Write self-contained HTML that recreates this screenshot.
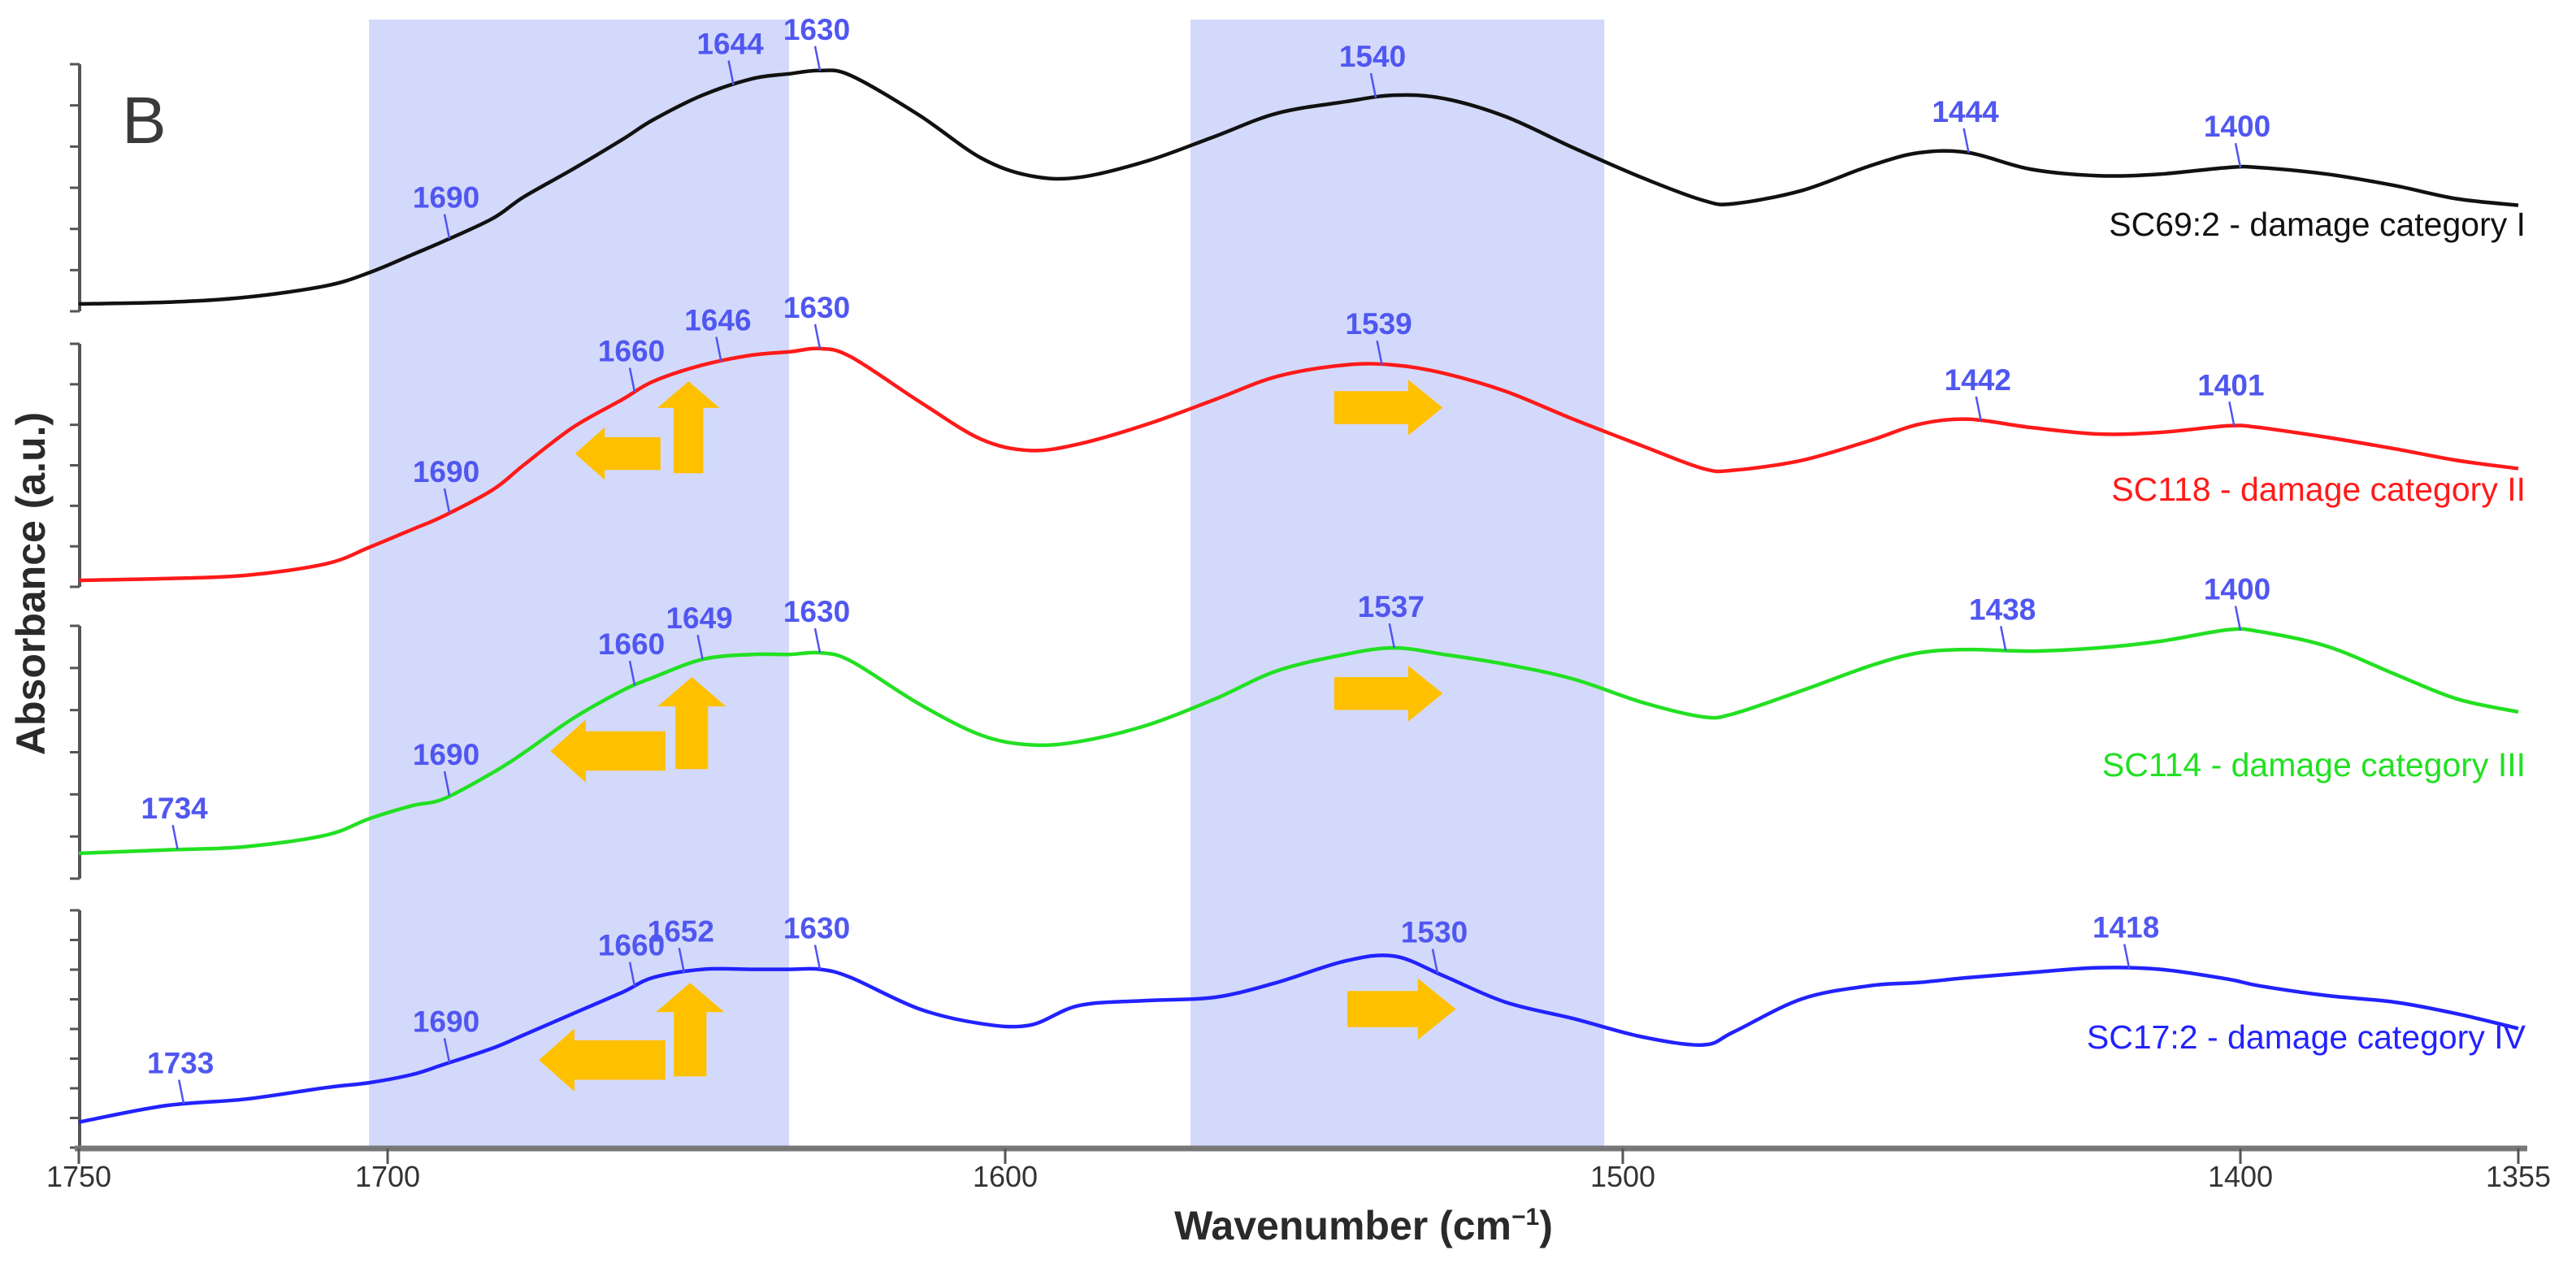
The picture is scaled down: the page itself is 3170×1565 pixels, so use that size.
<!DOCTYPE html>
<html><head><meta charset="utf-8"><style>
html,body{margin:0;padding:0;background:#fff}
svg{display:block}
text{font-family:"Liberation Sans",sans-serif}
</style></head><body>
<svg id="chart" width="3170" height="1565" viewBox="0 0 3170 1565" xmlns="http://www.w3.org/2000/svg">
<g id="shades"></g>
<g id="axes"></g>
<g id="arrows"></g>
<g id="series"></g>
<g id="annots"></g>
<text x="150" y="176" font-size="82" fill="#3a3a3a">B</text>
<text transform="translate(55,718) rotate(-90)" text-anchor="middle" font-size="50" font-weight="bold" fill="#2a2a2a">Absorbance (a.u.)</text>
<text x="1678" y="1525" text-anchor="middle" font-size="50" font-weight="bold" fill="#2a2a2a">Wavenumber (cm<tspan dy="-18" font-size="30">−1</tspan><tspan dy="18">)</tspan></text>
</svg>
<script>
const wavenumbers=[1750,1736,1723,1710,1703,1696,1691,1683,1678,1670,1662,1657,1649,1641,1635,1630,1625,1614,1604,1596,1588,1577,1566,1556,1545,1537,1529,1519,1508,1497,1487,1482,1471,1460,1452,1444,1434,1423,1413,1402,1397,1386,1375,1365,1355];
const seriesI=[4,5,8,15,23,34,42,56,69,86,104,116,131,141,144,146,143,119,93,82,81,91,106,120,127,131,129,118,99,81,67,65,73,88,96,96,86,82,83,87,87,83,76,68,64];
const seriesII=[2,3,5,12,22,33,41,57,72,95,112,123,133,139,141,143,138,111,88,81,85,97,112,126,133,133,128,117,100,84,70,69,75,87,97,100,95,91,92,96,95,89,82,75,70];
const seriesIII=[8,10,12,19,29,37,41,57,69,90,107,115,126,129,129,130,125,99,80,74,76,86,102,119,129,133,129,123,114,100,91,93,107,122,130,132,131,133,137,144,143,134,117,102,94];
const seriesIV=[17,27,31,38,41,46,52,62,70,83,96,105,110,110,110,110,105,86,77,76,88,91,93,102,115,118,106,90,80,69,64,72,92,100,102,105,108,111,110,104,100,94,90,83,74];
const seriesNames=["SC69:2 - damage category I","SC118 - damage category II","SC114 - damage category III","SC17:2 - damage category IV"];
const seriesColors=["#111111","#ff1a1a","#22e022","#2222ff"];
const xTicks=[1750,1700,1600,1500,1400,1355];
const shadeRanges=[[1703,1635],[1570,1503]];
const peaksI=[1690,1644,1630,1540,1444,1400];
const peaksII=[1690,1660,1646,1630,1539,1442,1401];
const peaksIII=[1734,1690,1660,1649,1630,1537,1438,1400];
const peaksIV=[1733,1690,1660,1652,1630,1530,1418];

const NS="http://www.w3.org/2000/svg";
const K=2.022;
function xs(w){return 97+(1750-w)*7.6;}
const panels=[{top:79,bot:383,base:382},{top:423,bot:722,base:718},{top:770,bot:1081,base:1066},{top:1120,bot:1412,base:1415}];
function ys(p,v){return panels[p].base-v*K;}
function mk(tag,attrs,parent){const e=document.createElementNS(NS,tag);for(const k in attrs)e.setAttribute(k,attrs[k]);parent.appendChild(e);return e;}
function interp(arr,w){for(let i=0;i<wavenumbers.length-1;i++){const a=wavenumbers[i],b=wavenumbers[i+1];if(w<=a&&w>=b){const t=(a-w)/(a-b);return arr[i]+(arr[i+1]-arr[i])*t;}}return arr[arr.length-1];}

const shades=document.getElementById('shades');
shadeRanges.forEach((r,i)=>{
 const e=mk('rect',{x:xs(r[0]),y:24,width:xs(r[1])-xs(r[0]),height:1388,fill:'#d3d9fa'},shades);
 
 
});

const axes=document.getElementById('axes');
panels.forEach((p,i)=>{
 const g=mk('g',{},axes);
 
 
 mk('line',{x1:98,y1:p.top,x2:98,y2:p.bot,stroke:'#555','stroke-width':4},g);
 const n=i==3?8:6;
 for(let k=0;k<=n;k++){const y=p.top+(p.bot-p.top)*k/n;mk('line',{x1:86,y1:y,x2:98,y2:y,stroke:'#555','stroke-width':3},g);}
});
const xa=mk('g',{},axes);


mk('line',{x1:92,y1:1413,x2:3110,y2:1413,stroke:'#777','stroke-width':7},xa);
xTicks.forEach(t=>{
 mk('line',{x1:xs(t),y1:1413,x2:xs(t),y2:1432,stroke:'#555','stroke-width':3},xa);
 const tx=mk('text',{x:xs(t),y:1460,'text-anchor':'middle','font-size':36,fill:'#333'},xa);
 tx.textContent=t;
 
 
});

const series=document.getElementById('series');
const all=[seriesI,seriesII,seriesIII,seriesIV];
function smoothPath(pts){let d='M'+pts[0][0]+','+pts[0][1];for(let i=0;i<pts.length-1;i++){const p0=pts[Math.max(0,i-1)],p1=pts[i],p2=pts[i+1],p3=pts[Math.min(pts.length-1,i+2)];const c1x=p1[0]+(p2[0]-p0[0])/6,c1y=p1[1]+(p2[1]-p0[1])/6,c2x=p2[0]-(p3[0]-p1[0])/6,c2y=p2[1]-(p3[1]-p1[1])/6;d+=' C'+c1x.toFixed(1)+','+c1y.toFixed(1)+' '+c2x.toFixed(1)+','+c2y.toFixed(1)+' '+p2[0].toFixed(1)+','+p2[1].toFixed(1);}return d;}
const labY=[290,616,955,1290];
all.forEach((arr,i)=>{
 const pts=wavenumbers.map((w,j)=>[xs(w),ys(i,arr[j])]);
 const pth=mk('path',{d:smoothPath(pts),fill:'none',stroke:seriesColors[i],'stroke-width':4.5},series);
 
 
 const t=mk('text',{x:3108,y:labY[i],'text-anchor':'end','font-size':41,fill:seriesColors[i]},series);
 t.textContent=seriesNames[i];
 
 
});

const annots=document.getElementById('annots');
const peaks=[peaksI,peaksII,peaksIII,peaksIV];
peaks.forEach((pk,i)=>{
 pk.forEach(w=>{
  const x=xs(w),y=ys(i,interp(all[i],w));
  mk('line',{x1:x-6,y1:y-30,x2:x,y2:y,stroke:'#4f55f0','stroke-width':2.5},annots);
  const t=mk('text',{x:x-4,y:y-38,'text-anchor':'middle','font-size':37,'font-weight':'bold',fill:'#5057f0'},annots);
  t.textContent=w;
  
  
 });
});

const arrows=document.getElementById('arrows');
function pts(a){return a.map(p=>(p[0]*K).toFixed(1)+','+(p[1]*K).toFixed(1)).join(' ');}
function leftArrow(x0,x1,yc,h){const hw=h*0.5,hh=h*0.8,hl=h*0.9;return [[x0,yc],[x0+hl,yc-hh],[x0+hl,yc-hw],[x1,yc-hw],[x1,yc+hw],[x0+hl,yc+hw],[x0+hl,yc+hh]];}
function rightArrow(x0,x1,yc,h){const hw=h*0.5,hh=h*0.85,hl=h*1.05;return [[x1,yc],[x1-hl,yc-hh],[x1-hl,yc-hw],[x0,yc-hw],[x0,yc+hw],[x1-hl,yc+hw],[x1-hl,yc+hh]];}
function upArrow(xc,y0,y1,w){const hw=w*0.5,hh=w*1.05,hl=w*0.9;return [[xc,y0],[xc+hh,y0+hl],[xc+hw,y0+hl],[xc+hw,y1],[xc-hw,y1],[xc-hw,y0+hl],[xc-hh,y0+hl]];}
const arrowShapes=[
 leftArrow(350,402,276,20),upArrow(419,232,288,18),rightArrow(812,878,248,20),
 leftArrow(335,405,457,24),upArrow(421,412,468,33*0.6),rightArrow(812,878,422,20),
 leftArrow(328,405,645,24),upArrow(420,598,655,33*0.6),rightArrow(820,886,614,22)
];
arrowShapes.forEach(a=>{
 const e=mk('polygon',{points:pts(a),fill:'#ffc000'},arrows);
 
 
});
</script>
</body></html>
